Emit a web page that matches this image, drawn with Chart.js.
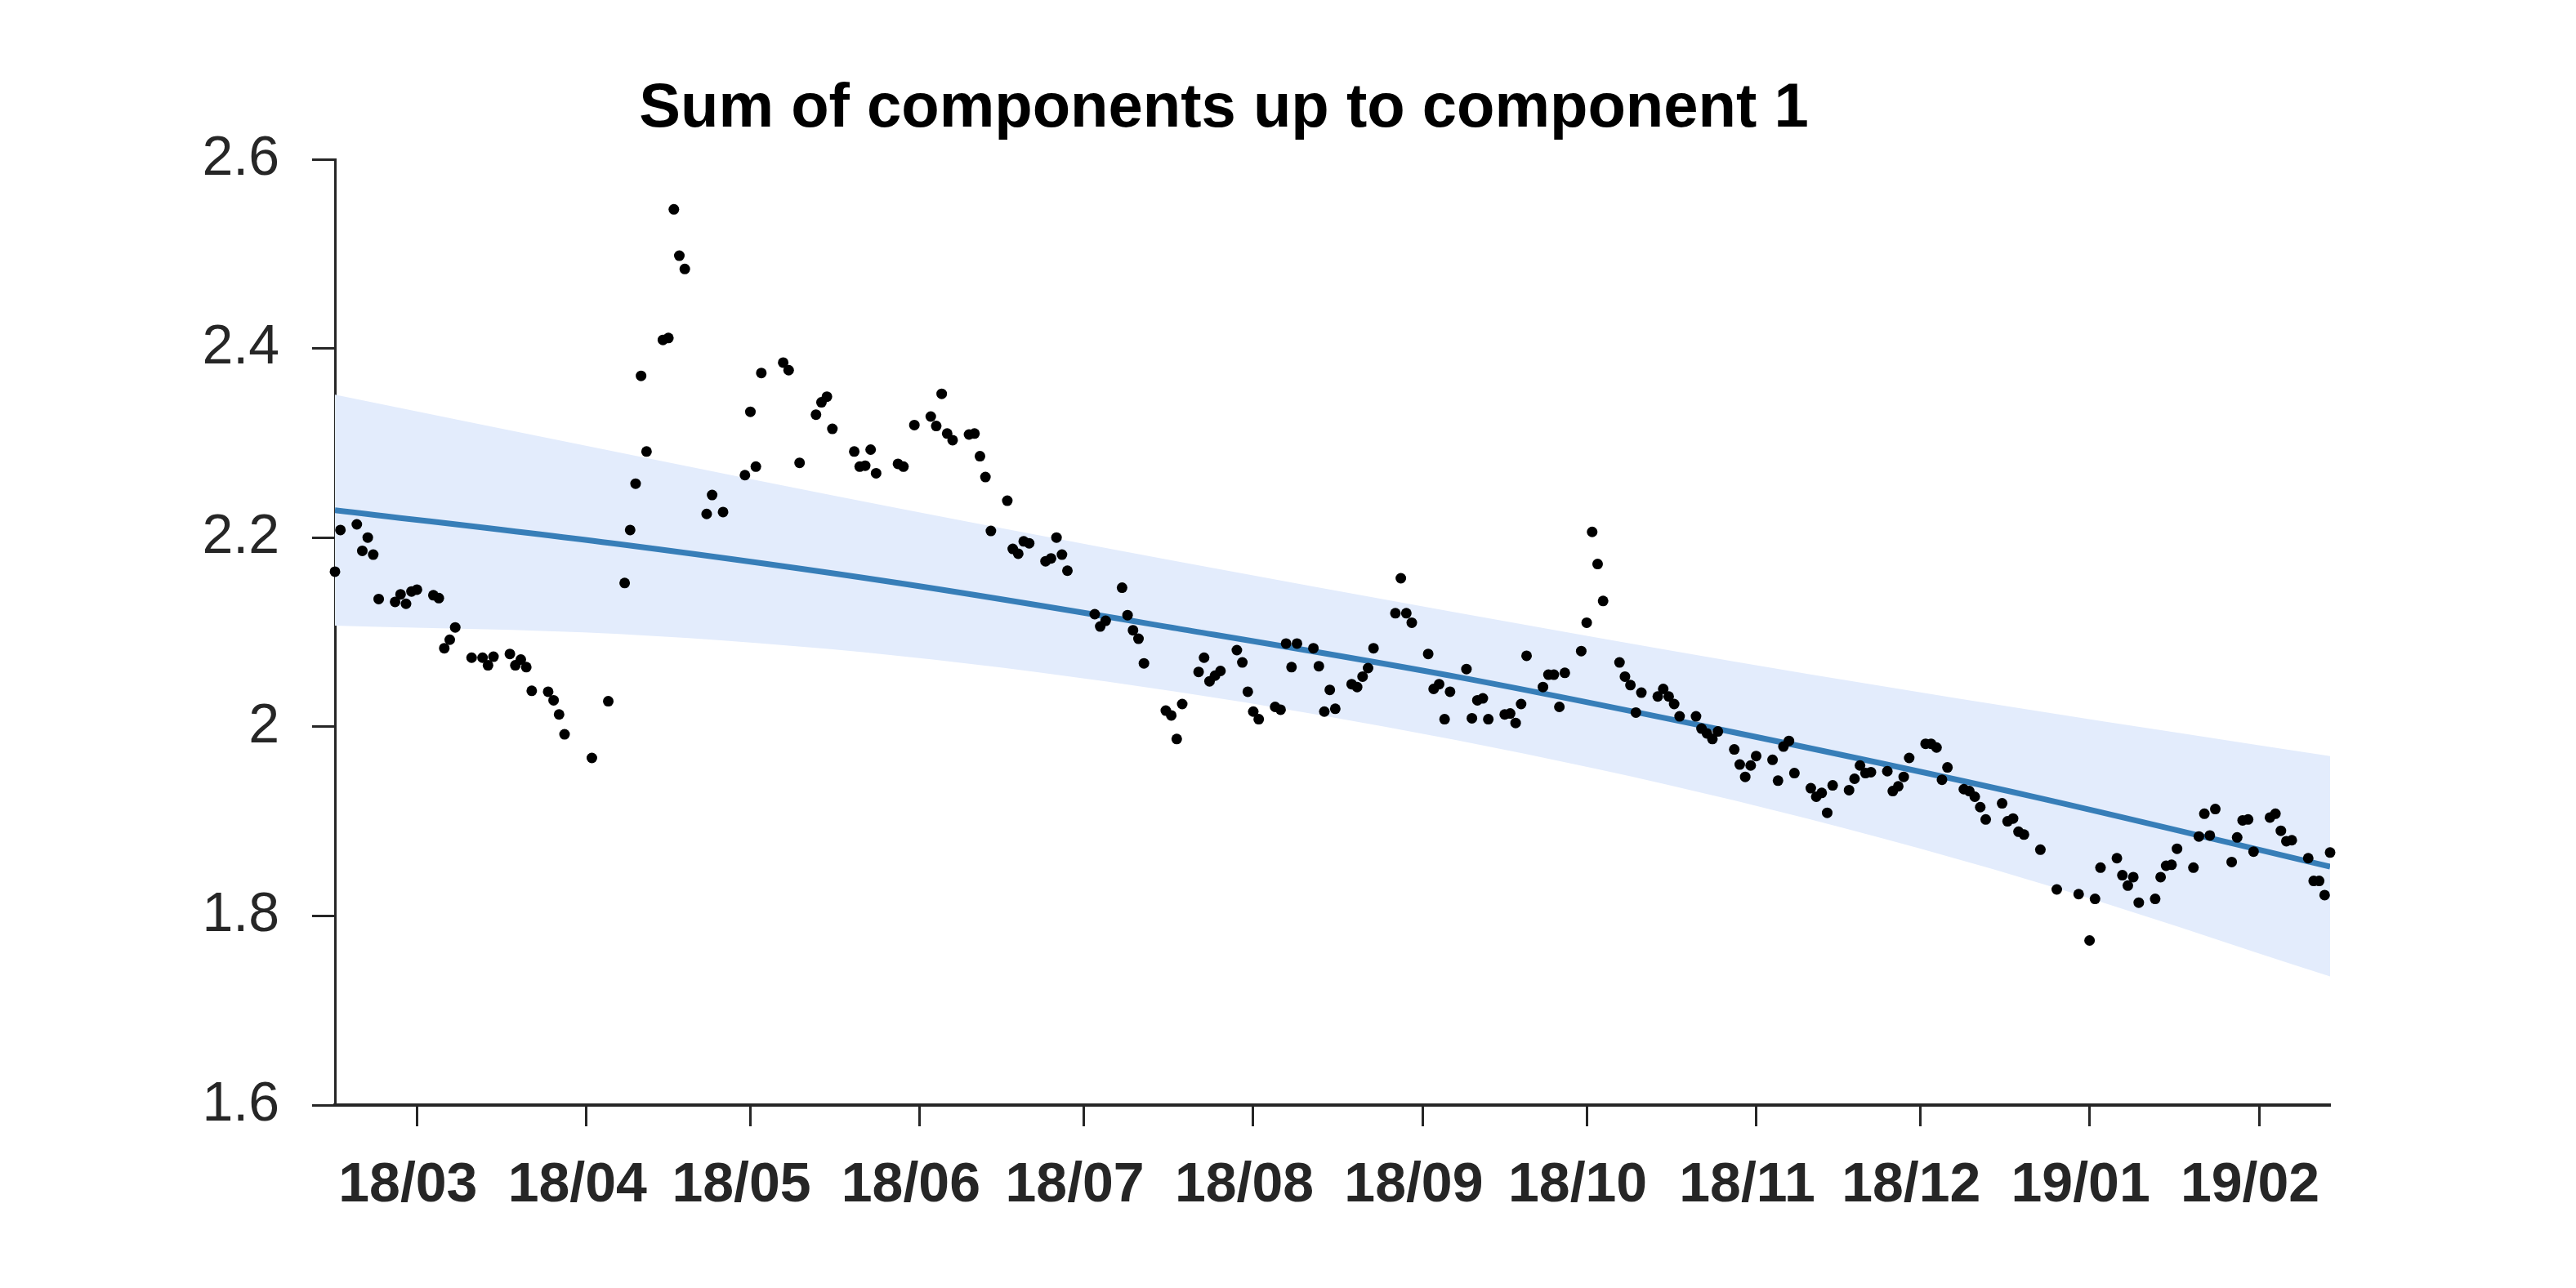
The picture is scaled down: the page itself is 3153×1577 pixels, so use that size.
<!DOCTYPE html>
<html>
<head>
<meta charset="utf-8">
<title>Sum of components up to component 1</title>
<script src="https://cdn.jsdelivr.net/npm/chart.js@4.4.1/dist/chart.umd.min.js"></script>
<style>
  html, body { margin: 0; padding: 0; background: #fff; overflow: hidden; }
  canvas { display: block; }
</style>
</head>
<body>
<canvas id="chart" width="3153" height="1577"></canvas>
<script>
// trading days (Sun-Thu), counted from 2018-03-01 = day 0
const days = [
  -15, -14, -11, -10, -9, -8, -7, -4, -3, -2, -1,
  0, 3, 4, 5, 6, 7, 10, 12, 13, 14, 17, 18, 19, 20, 21, 24, 25, 26, 27,
  32, 35, 38, 39, 40, 41, 42, 45, 46, 47, 48, 49, 53, 54, 56, 60,
  61, 62, 63, 67, 68, 70, 73, 74, 75, 76, 80, 81, 82, 83, 84, 88, 89, 91,
  94, 95, 96, 97, 98, 101, 102, 103, 104, 105, 108, 109, 110, 111, 112, 115, 116, 117, 118, 119,
  124, 125, 126, 129, 130, 131, 132, 133, 137, 138, 139, 140, 143, 144, 145, 146, 147, 150, 151, 152,
  153, 154, 157, 158, 159, 160, 161, 164, 165, 166, 167, 168, 171, 172, 173, 174, 175, 179, 180, 181, 182,
  185, 186, 187, 188, 189, 192, 193, 194, 195, 196, 199, 200, 201, 202, 203, 206, 207, 208, 209, 210,
  213, 214, 215, 216, 217, 220, 221, 222, 223, 224, 227, 228, 229, 230, 231, 234, 235, 236, 237, 238, 241, 242, 243, 244,
  245, 248, 249, 250, 251, 252, 255, 256, 257, 258, 259, 262, 263, 264, 265, 266, 269, 270, 271, 272, 273,
  276, 277, 278, 279, 280, 283, 284, 285, 286, 287, 290, 291, 292, 293, 294, 297, 300, 304,
  306, 307, 308, 311, 312, 313, 314, 315, 318, 319, 320, 321, 322, 325, 326, 327, 328, 329, 332, 333, 334, 335, 336,
  339, 340, 341, 342, 343, 346, 347, 348, 349, 350
];
const values = [
  2.164, 2.208, 2.214, 2.186, 2.200, 2.182, 2.135, 2.132, 2.140, 2.130, 2.143,
  2.145, 2.139, 2.136, 2.083, 2.092, 2.105, 2.073, 2.073, 2.065, 2.074, 2.077, 2.065, 2.071, 2.063, 2.038, 2.037, 2.028, 2.013, 1.992,
  1.967, 2.027, 2.152, 2.208, 2.257, 2.371, 2.291, 2.409, 2.411, 2.547, 2.498, 2.484, 2.225, 2.245, 2.227, 2.266,
  2.333, 2.275, 2.374, 2.385, 2.377, 2.279, 2.330, 2.343, 2.349, 2.315, 2.291, 2.275, 2.276, 2.293, 2.268, 2.278, 2.275, 2.319,
  2.328, 2.318, 2.352, 2.310, 2.303, 2.309, 2.310, 2.286, 2.264, 2.207, 2.239, 2.188, 2.183, 2.196, 2.194, 2.175, 2.178, 2.200, 2.182, 2.165,
  2.119, 2.106, 2.112, 2.147, 2.118, 2.102, 2.093, 2.067, 2.017, 2.012, 1.987, 2.024, 2.058, 2.073, 2.048, 2.054, 2.059, 2.081, 2.068, 2.037,
  2.016, 2.008, 2.021, 2.018, 2.088, 2.063, 2.088, 2.083, 2.064, 2.016, 2.039, 2.019, 2.045, 2.042, 2.053, 2.062, 2.083, 2.120, 2.157, 2.120, 2.110,
  2.077, 2.040, 2.045, 2.008, 2.037, 2.061, 2.009, 2.028, 2.030, 2.008, 2.013, 2.014, 2.004, 2.024, 2.075, 2.042, 2.055, 2.055, 2.021, 2.057,
  2.080, 2.110, 2.206, 2.172, 2.133, 2.068, 2.053, 2.044, 2.015, 2.036, 2.032, 2.040, 2.032, 2.024, 2.011, 2.011, 1.998, 1.993, 1.987, 1.995, 1.976, 1.960, 1.947, 1.959,
  1.969, 1.965, 1.943, 1.979, 1.985, 1.951, 1.935, 1.926, 1.930, 1.909, 1.938, 1.933, 1.945, 1.959, 1.951, 1.952, 1.953, 1.932, 1.937, 1.947, 1.967,
  1.982, 1.982, 1.978, 1.944, 1.957, 1.934, 1.932, 1.926, 1.915, 1.902, 1.919, 1.900, 1.903, 1.889, 1.886, 1.870, 1.828, 1.823,
  1.774, 1.818, 1.851, 1.861, 1.843, 1.832, 1.841, 1.814, 1.818, 1.841, 1.853, 1.854, 1.871, 1.851, 1.884, 1.908, 1.885, 1.913, 1.857, 1.883, 1.901, 1.902, 1.868,
  1.904, 1.908, 1.890, 1.879, 1.880, 1.861, 1.837, 1.837, 1.822, 1.867
];

// fitted trend curve and its shaded band, read at a few days
const fitDays = [-15, 37, 88, 139, 190, 241, 295, 350];
const fitMean = [2.229, 2.193, 2.152, 2.104, 2.053, 1.994, 1.927, 1.852];
const fitUpper = [2.351, 2.290, 2.231, 2.175, 2.121, 2.069, 2.018, 1.969];
const fitLower = [2.107, 2.098, 2.075, 2.037, 1.986, 1.922, 1.838, 1.736];

// axis ticks
const monthDays = [0, 31, 61, 92, 122, 153, 184, 214, 245, 275, 306, 337];
const monthLabels = ['18/03', '18/04', '18/05', '18/06', '18/07', '18/08', '18/09', '18/10', '18/11', '18/12', '19/01', '19/02'];
const yTicks = [1.6, 1.8, 2, 2.2, 2.4, 2.6];

const titleText = 'Sum of components up to component 1';
const FONT = '"Liberation Sans", Arial, Helvetica, sans-serif';
const AXIS = '#262626';

const zip = (xs, ys) => xs.map((x, i) => ({ x: x, y: ys[i] }));

// title sits left of the plot centre in the original, so draw it ourselves
const titlePlugin = {
  id: 'plotTitle',
  afterDraw(chart) {
    const ctx = chart.ctx;
    ctx.save();
    ctx.font = 'bold 76px ' + FONT;
    ctx.fillStyle = '#000';
    ctx.textAlign = 'center';
    ctx.textBaseline = 'alphabetic';
    ctx.fillText(titleText, 1498, 155);
    ctx.restore();
  }
};

Chart.defaults.font.family = FONT;

new Chart(document.getElementById('chart'), {
  type: 'scatter',
  data: {
    datasets: [
      {
        label: 'data',
        data: zip(days, values),
        pointRadius: 6.5,
        pointBackgroundColor: '#000',
        pointBorderColor: '#000',
        pointBorderWidth: 0,
        clip: false
      },
      {
        type: 'line',
        label: 'trend',
        data: zip(fitDays, fitMean),
        borderColor: '#377eb8',
        borderWidth: 7,
        pointRadius: 0,
        cubicInterpolationMode: 'monotone',
        fill: false
      },
      {
        type: 'line',
        label: 'upper',
        data: zip(fitDays, fitUpper),
        borderColor: 'rgba(0,0,0,0)',
        backgroundColor: '#e3ecfc',
        pointRadius: 0,
        cubicInterpolationMode: 'monotone',
        fill: '+1'
      },
      {
        type: 'line',
        label: 'lower',
        data: zip(fitDays, fitLower),
        borderColor: 'rgba(0,0,0,0)',
        pointRadius: 0,
        cubicInterpolationMode: 'monotone',
        fill: false
      }
    ]
  },
  options: {
    responsive: false,
    animation: false,
    devicePixelRatio: 1,
    layout: { padding: { top: 195, right: 301, left: 0, bottom: 0 } },
    plugins: {
      legend: { display: false },
      tooltip: { enabled: false },
      title: { display: false }
    },
    scales: {
      x: {
        type: 'linear',
        min: -15,
        max: 350,
        afterFit: s => { s.height = 224; },
        afterBuildTicks: s => { s.ticks = monthDays.map(v => ({ value: v })); },
        border: { display: true, color: AXIS, width: 4 },
        grid: { drawOnChartArea: false, drawTicks: true, tickLength: 26, tickWidth: 3, tickColor: AXIS },
        ticks: {
          autoSkip: false,
          maxRotation: 0,
          padding: 32,
          labelOffset: -11,
          color: AXIS,
          font: { size: 68, weight: 'bold' },
          callback: (v, i) => monthLabels[i]
        }
      },
      y: {
        min: 1.6,
        max: 2.6,
        afterFit: s => { s.width = 410; },
        afterBuildTicks: s => { s.ticks = yTicks.map(v => ({ value: v })); },
        border: { display: true, color: AXIS, width: 3 },
        grid: { drawOnChartArea: false, drawTicks: true, tickLength: 28, tickWidth: 3, tickColor: AXIS },
        ticks: {
          padding: 40,
          color: AXIS,
          font: { size: 68 },
          callback: v => String(v)
        }
      }
    }
  },
  plugins: [titlePlugin]
});
</script>
</body>
</html>
